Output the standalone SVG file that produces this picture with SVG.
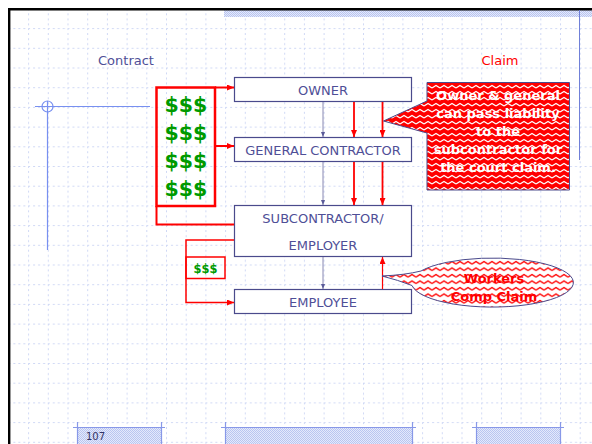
<svg xmlns="http://www.w3.org/2000/svg" width="592" height="444" viewBox="0 0 592 444">
<style>
.lbl{font-family:"DejaVu Sans",Verdana,sans-serif;font-size:13px;fill:#4f4f97;text-anchor:middle}
.box{fill:#fff;stroke:#4a4a8c;stroke-width:1.2}
.money{font-family:"DejaVu Sans",Verdana,sans-serif;font-weight:bold;fill:#009a00;text-anchor:middle}
.red{stroke:#f00;fill:none}
.thin{stroke:#6a6aa0;stroke-width:0.8;fill:none}
.call{font-family:"DejaVu Sans",Verdana,sans-serif;font-weight:bold;font-size:13px;text-anchor:middle}
</style>
<defs>
<pattern id="grid" patternUnits="userSpaceOnUse" x="8.4" y="8.4" width="19.7" height="19.7">
<line x1="0" y1="0.5" x2="19.7" y2="0.5" stroke="#cfd8f5" stroke-width="1" stroke-dasharray="2 3"/>
<line x1="0.5" y1="0" x2="0.5" y2="19.7" stroke="#cfd8f5" stroke-width="1" stroke-dasharray="2 3"/>
</pattern>
<pattern id="check" patternUnits="userSpaceOnUse" width="2" height="2">
<rect width="2" height="2" fill="#e4e9fb"/>
<rect width="1" height="1" fill="#b9c5f0"/>
<rect x="1" y="1" width="1" height="1" fill="#b9c5f0"/>
</pattern>
<pattern id="zzw" patternUnits="userSpaceOnUse" width="8" height="6">
<rect width="8" height="6" fill="#f00"/>
<path d="M0,4 L4,1.5 L8,4" stroke="#fff" stroke-width="1.2" fill="none"/>
</pattern>
<pattern id="zzr" patternUnits="userSpaceOnUse" width="8" height="6.5">
<rect width="8" height="6.5" fill="#fff"/>
<path d="M0,4 L4,1.5 L8,4" stroke="#f00" stroke-width="1.3" fill="none"/>
</pattern>
<marker id="ar" markerWidth="7" markerHeight="6" refX="7" refY="3" orient="auto" markerUnits="userSpaceOnUse">
<path d="M0,0 L7,3 L0,6 Z" fill="#f00"/>
</marker>
<marker id="ab" markerWidth="5" markerHeight="4" refX="5" refY="2" orient="auto" markerUnits="userSpaceOnUse">
<path d="M0,0 L5,2 L0,4 Z" fill="#5a5a98"/>
</marker>
</defs>

<rect x="0" y="0" width="592" height="444" fill="#fff"/>
<rect x="10" y="10" width="582" height="434" fill="url(#grid)"/>

<g id="frame">
<rect x="224" y="10" width="368" height="7" fill="url(#check)"/>
<line x1="9.2" y1="8" x2="9.2" y2="444" stroke="#000" stroke-width="2.4"/>
<line x1="8" y1="9.2" x2="592" y2="9.2" stroke="#000" stroke-width="2.4"/>
<line x1="579.5" y1="10" x2="579.5" y2="160" stroke="#7080d8" stroke-width="1"/>
<line x1="35" y1="106.5" x2="150" y2="106.5" stroke="#7890f0" stroke-width="1.2"/>
<line x1="47.5" y1="101" x2="47.5" y2="250" stroke="#7890f0" stroke-width="1.2"/>
<circle cx="47.5" cy="106.5" r="5.5" fill="none" stroke="#7890f0" stroke-width="1.2"/>
</g>

<g id="footer">
<rect x="77" y="427" width="84" height="17" fill="url(#check)"/>
<line x1="73" y1="427.5" x2="165" y2="427.5" stroke="#8898e8" stroke-width="1.2"/>
<line x1="77.5" y1="422" x2="77.5" y2="444" stroke="#8898e8" stroke-width="1.2"/>
<line x1="161.5" y1="422" x2="161.5" y2="444" stroke="#8898e8" stroke-width="1.2"/>
<text x="86" y="440" font-family="'DejaVu Sans',Verdana,sans-serif" font-size="10" fill="#333366">107</text>
<rect x="225" y="427" width="187" height="17" fill="url(#check)"/>
<line x1="221" y1="427.5" x2="416" y2="427.5" stroke="#8898e8" stroke-width="1.2"/>
<line x1="225.5" y1="422" x2="225.5" y2="444" stroke="#8898e8" stroke-width="1.2"/>
<line x1="412.5" y1="422" x2="412.5" y2="444" stroke="#8898e8" stroke-width="1.2"/>
<rect x="476" y="427" width="84" height="17" fill="url(#check)"/>
<line x1="472" y1="427.5" x2="564" y2="427.5" stroke="#8898e8" stroke-width="1.2"/>
<line x1="476.5" y1="422" x2="476.5" y2="444" stroke="#8898e8" stroke-width="1.2"/>
<line x1="560.5" y1="422" x2="560.5" y2="444" stroke="#8898e8" stroke-width="1.2"/>
</g>

<text class="lbl" x="126" y="65">Contract</text>
<text class="lbl" x="500" y="65" style="fill:#f00">Claim</text>

<g id="owner">
<rect class="box" x="234.5" y="77.5" width="177" height="24"/>
<text class="lbl" x="323" y="94.5">OWNER</text>
</g>
<g id="general-contractor">
<rect class="box" x="234.5" y="137.5" width="177" height="24"/>
<text class="lbl" x="323" y="154.5">GENERAL CONTRACTOR</text>
</g>
<g id="subcontractor">
<rect class="box" x="234.5" y="205.5" width="177" height="51"/>
<text class="lbl" x="323" y="223">SUBCONTRACTOR/</text>
<text class="lbl" x="323" y="250">EMPLOYER</text>
</g>
<g id="employee">
<rect class="box" x="234.5" y="289.5" width="177" height="24"/>
<text class="lbl" x="323" y="306.5">EMPLOYEE</text>
</g>

<g id="money-big">
<rect x="156.5" y="87.5" width="58.5" height="118.5" fill="none" stroke="#f00" stroke-width="2.5"/>
<text class="money" x="186" y="112" font-size="20.5">$$$</text>
<text class="money" x="186" y="140" font-size="20.5">$$$</text>
<text class="money" x="186" y="168" font-size="20.5">$$$</text>
<text class="money" x="186" y="196" font-size="20.5">$$$</text>
</g>

<g id="money-small">
<rect x="186" y="257" width="39" height="21.5" fill="none" stroke="#f00" stroke-width="1.5"/>
<text class="money" x="205.5" y="273" font-size="11.5">$$$</text>
</g>

<g id="connectors">
<line class="thin" x1="323" y1="102" x2="323" y2="137" marker-end="url(#ab)"/>
<line class="thin" x1="323" y1="162" x2="323" y2="205" marker-end="url(#ab)"/>
<line class="thin" x1="323" y1="257" x2="323" y2="289" marker-end="url(#ab)"/>
<line class="red" stroke-width="1.8" x1="354" y1="102" x2="354" y2="137" marker-end="url(#ar)"/>
<line class="red" stroke-width="1.8" x1="382.5" y1="102" x2="382.5" y2="137" marker-end="url(#ar)"/>
<line class="red" stroke-width="1.8" x1="354" y1="162" x2="354" y2="205" marker-end="url(#ar)"/>
<line class="red" stroke-width="1.8" x1="382.5" y1="162" x2="382.5" y2="205" marker-end="url(#ar)"/>
<line class="red" stroke-width="1.2" x1="382.5" y1="289" x2="382.5" y2="257" marker-end="url(#ar)"/>
<line class="red" stroke-width="2" x1="215" y1="87.5" x2="234" y2="87.5" marker-end="url(#ar)"/>
<line class="red" stroke-width="2" x1="215" y1="146" x2="234" y2="146" marker-end="url(#ar)"/>
<polyline class="red" stroke-width="2" points="156.5,206 156.5,224.5 234,224.5"/>
<polyline class="red" stroke-width="1.5" points="234,240 186,240 186,302.5 234,302.5" marker-end="url(#ar)"/>
</g>

<g id="callout-liability">
<path d="M427,82.5 L569.5,82.5 L569.5,190 L427,190 L427,133 L383.5,121 L427,101 Z" fill="url(#zzw)" stroke="#4a4a8c" stroke-width="1"/>
<text class="call" fill="#fff" x="498" y="100">Owner &amp; general</text>
<text class="call" fill="#fff" x="498" y="118">can pass liability</text>
<text class="call" fill="#fff" x="498" y="136">to the</text>
<text class="call" fill="#fff" x="498" y="154">subcontractor for</text>
<text class="call" fill="#fff" x="498" y="172">the court claim.</text>
</g>

<g id="callout-workers">
<path d="M421,271 A81,24.5 0 1 1 412,285.5 Q398,280 382,276 Q405,275 421,271 Z" fill="url(#zzr)" stroke="#4a4a8c" stroke-width="1"/>
<text class="call" fill="#f00" x="494" y="283">Workers</text>
<text class="call" fill="#f00" x="494" y="301">Comp Claim</text>
</g>
</svg>
